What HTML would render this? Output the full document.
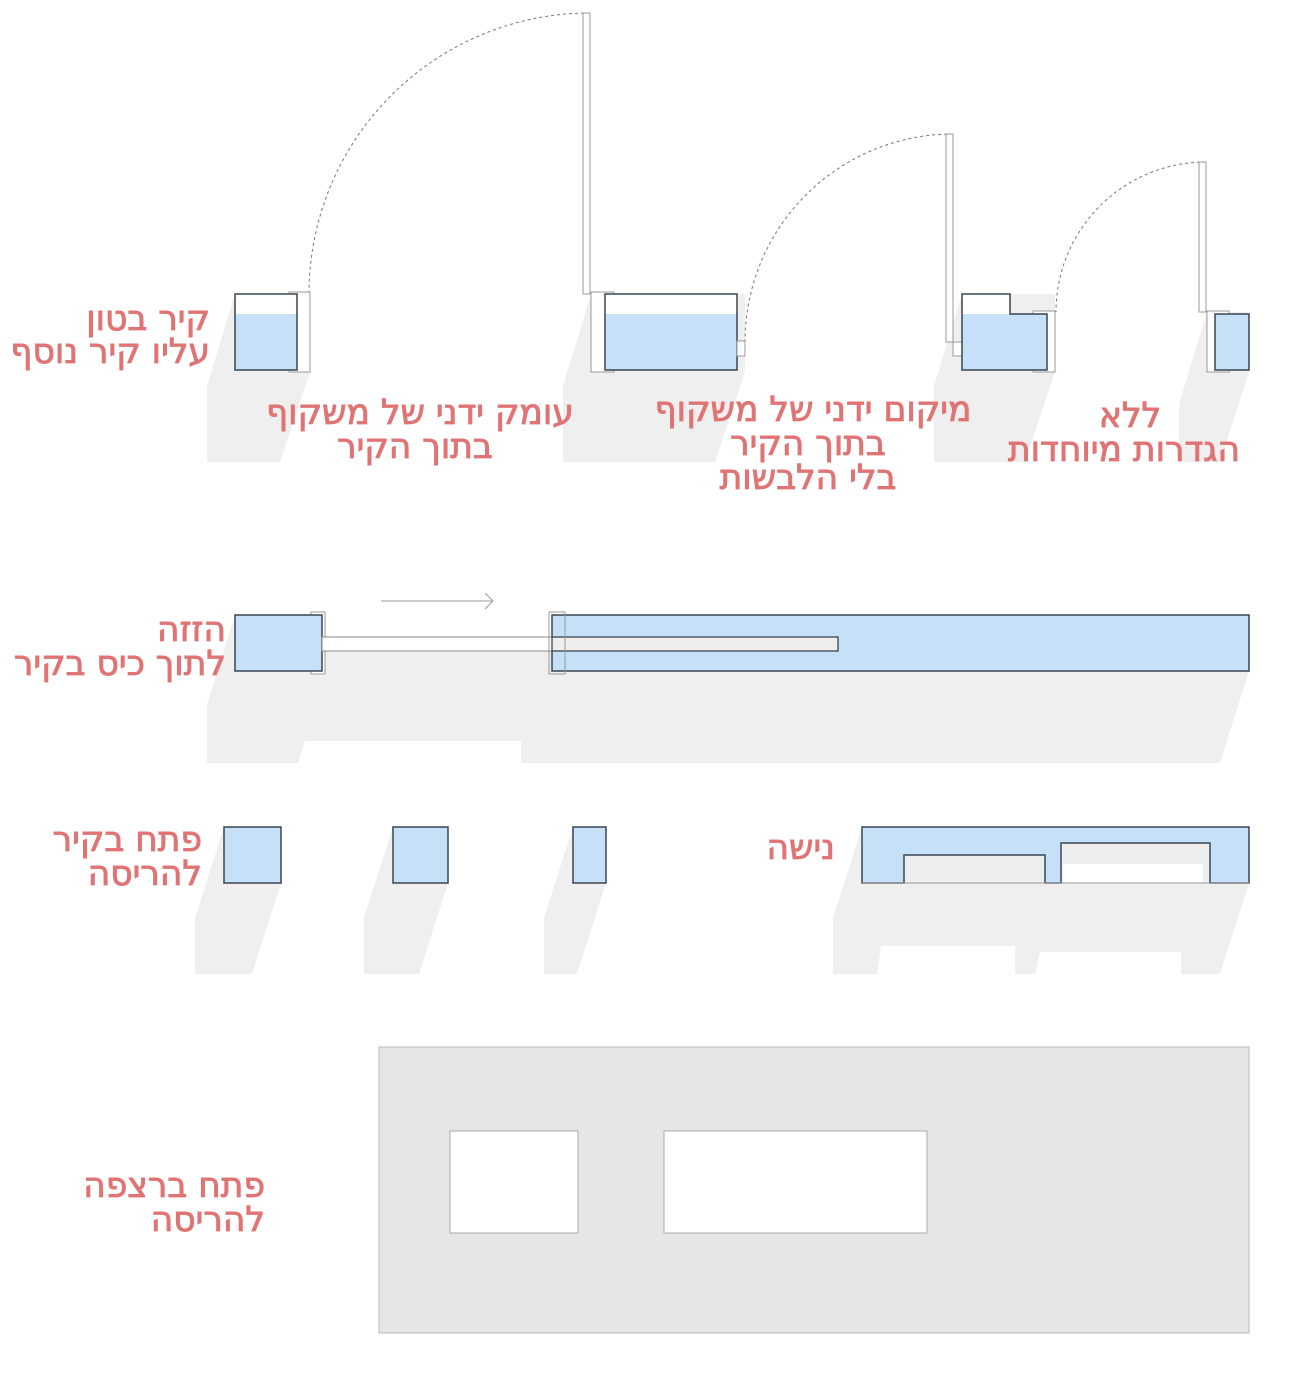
<!DOCTYPE html>
<html><head><meta charset="utf-8"><style>
html,body{margin:0;padding:0;background:#fff;width:1308px;height:1400px;overflow:hidden}
svg{display:block}
.t{font-family:"DejaVu Sans","Liberation Sans",sans-serif;font-size:34.5px;fill:#e07474;stroke:#e07474;stroke-width:0.9px}
.sh{fill:#efefef}
.b{fill:#c5e0f7}
.o{fill:none;stroke:#3a4550;stroke-width:1.5}
.f{fill:#fff;stroke:#999;stroke-width:1}
.d{fill:none;stroke:#777;stroke-width:1;stroke-dasharray:3 3}
</style></head><body>
<svg width="1308" height="1400" viewBox="0 0 1308 1400" xmlns="http://www.w3.org/2000/svg">
<!-- row1 shadows -->
<polygon class="sh" points="235,294 310,294 310,372 280,462 207,462 207,386"/>
<polygon class="sh" points="591,294 745,294 745,372 715,462 563,462 563,386"/>
<polygon class="sh" points="962,294 1055,294 1055,372 1025,462 934,462 934,386"/>
<polygon class="sh" points="1207,312 1249,312 1249,372 1220,462 1179,462 1179,404"/>
<!-- row1 doors -->
<path class="d" d="M590,13 A281,281 0 0 0 309,294"/>
<path class="d" d="M953,134 A208,208 0 0 0 745,342"/>
<path class="d" d="M1206,162 A150,150 0 0 0 1056,312"/>
<rect class="f" x="583" y="13" width="7" height="281"/>
<rect class="f" x="946" y="134" width="7" height="208"/>
<rect class="f" x="1199" y="162" width="7" height="150"/>
<!-- box A -->
<rect class="f" x="289" y="292" width="21" height="80"/>
<rect x="235" y="294" width="62" height="76" fill="#fff"/>
<rect class="b" x="235" y="314" width="62" height="56"/>
<rect class="o" x="235" y="294" width="62" height="76"/>
<!-- box B -->
<rect class="f" x="591" y="292" width="23" height="80"/>
<rect x="605" y="294" width="132" height="76" fill="#fff"/>
<rect class="b" x="605" y="314" width="132" height="56"/>
<rect class="o" x="605" y="294" width="132" height="76"/>
<rect class="f" x="737" y="341" width="8" height="15"/>
<!-- box C -->
<rect class="f" x="953" y="342" width="9" height="14"/>
<rect class="f" x="1033" y="311" width="22" height="61"/>
<path d="M962,294 H1010 V314 H962Z" fill="#fff"/>
<rect class="b" x="962" y="314" width="85" height="56"/>
<path class="o" d="M962,294 H1010 V314 H1047 V370 H962Z"/>
<!-- box D -->
<rect class="f" x="1207" y="311" width="22" height="61"/>
<rect class="b" x="1215" y="314" width="34" height="56"/>
<rect class="o" x="1215" y="314" width="34" height="56"/>
<!-- row2 -->
<polygon class="sh" points="235,615 322,615 322,651 552,651 552,615 1249,615 1249,671 1220,763 534,763 521,763 521,741 305,741 298,763 281,763 207,763 207,705"/>
<line x1="381" y1="601" x2="493" y2="601" stroke="#999" stroke-width="1"/>
<polyline points="485,593 493,601 485,609" fill="none" stroke="#999" stroke-width="1"/>
<rect class="f" x="311" y="612" width="14" height="62"/>
<rect class="b" x="235" y="615" width="87" height="56"/>
<rect class="o" x="235" y="615" width="87" height="56"/>
<rect class="b" x="552" y="615" width="697" height="56"/>
<rect class="o" x="552" y="615" width="697" height="56"/>
<rect x="322" y="637" width="230" height="14" fill="#fff" stroke="#888" stroke-width="1"/>
<rect x="552" y="637" width="286" height="14" fill="#eee" stroke="#3a4550" stroke-width="1.3"/>
<rect x="549" y="612" width="16" height="62" fill="none" stroke="#999" stroke-width="1"/>
<!-- row3 -->
<polygon class="sh" points="224,827 281,827 281,883 252,974 195,974 195,918"/>
<polygon class="sh" points="393,827 448,827 448,883 419,974 364,974 364,918"/>
<polygon class="sh" points="573,827 606,827 606,883 577,974 544,974 544,918"/>
<polygon class="sh" points="862,827 1249,827 1249,883 1220,974 1181,974 1181,952 1040,952 1035,974 1015,974 1015,946 881,946 877,974 833,974 833,918"/>
<rect class="b" x="224" y="827" width="57" height="56"/><rect class="o" x="224" y="827" width="57" height="56"/>
<rect class="b" x="393" y="827" width="55" height="56"/><rect class="o" x="393" y="827" width="55" height="56"/>
<rect class="b" x="573" y="827" width="33" height="56"/><rect class="o" x="573" y="827" width="33" height="56"/>
<path class="b" d="M862,827 H1249 V883 H1210 V843 H1061 V883 H1045 V855 H904 V883 H862Z"/>
<rect x="904" y="855" width="141" height="28" fill="#eee"/>
<rect x="1061" y="843" width="149" height="40" fill="#eee"/>
<rect x="1063" y="864" width="140" height="19" fill="#fff"/>
<path class="o" d="M862,883 V827 H1249 V883 H1210 V843 H1061 V883 H1045 V855 H904 V883 Z"/>
<line x1="862" y1="883" x2="1249" y2="883" stroke="#999" stroke-width="1"/>
<!-- floor -->
<rect x="379" y="1047" width="870" height="286" fill="#e6e6e6" stroke="#bbb" stroke-width="1"/>
<rect x="450" y="1131" width="128" height="102" fill="#fff" stroke="#aaa" stroke-width="1"/>
<rect x="664" y="1131" width="263" height="102" fill="#fff" stroke="#aaa" stroke-width="1"/>
<!-- labels -->
<g class="t" direction="rtl">
<text x="210" y="330" text-anchor="start">קיר בטון</text>
<text x="210" y="363" text-anchor="start">עליו קיר נוסף</text>
<text x="420" y="424" text-anchor="middle">עומק ידני של משקוף</text>
<text x="415" y="458" text-anchor="middle">בתוך הקיר</text>
<text x="813" y="421" text-anchor="middle">מיקום ידני של משקוף</text>
<text x="808" y="455" text-anchor="middle">בתוך הקיר</text>
<text x="808" y="489" text-anchor="middle">בלי הלבשות</text>
<text x="1130" y="427" text-anchor="middle">ללא</text>
<text x="1124" y="461" text-anchor="middle">הגדרות מיוחדות</text>
<text x="226" y="641" text-anchor="start">הזזה</text>
<text x="226" y="675" text-anchor="start">לתוך כיס בקיר</text>
<text x="202" y="851" text-anchor="start">פתח בקיר</text>
<text x="202" y="885" text-anchor="start">להריסה</text>
<text x="835" y="859" text-anchor="start">נישה</text>
<text x="265" y="1197" text-anchor="start">פתח ברצפה</text>
<text x="265" y="1231" text-anchor="start">להריסה</text>
</g>
</svg>
</body></html>
